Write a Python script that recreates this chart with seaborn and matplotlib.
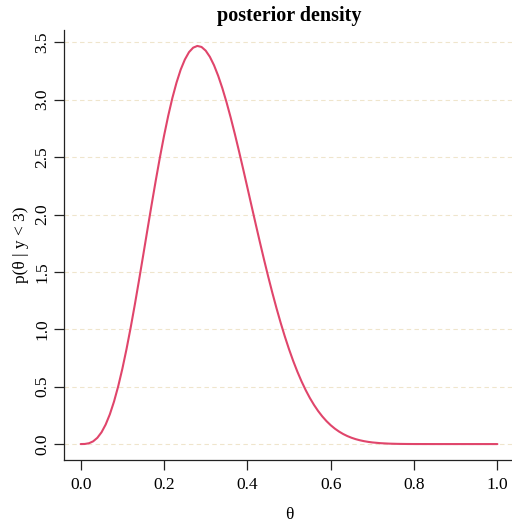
import matplotlib
matplotlib.use("Agg")
import matplotlib.pyplot as plt
import seaborn as sns
import pandas as pd

# Posterior density of theta given fewer than 3 successes
theta = [0.00, 0.01, 0.02, 0.03, 0.04, 0.05, 0.06, 0.07, 0.08, 0.09,
         0.10, 0.11, 0.12, 0.13, 0.14, 0.15, 0.16, 0.17, 0.18, 0.19,
         0.20, 0.21, 0.22, 0.23, 0.24, 0.25, 0.26, 0.27, 0.28, 0.29,
         0.30, 0.31, 0.32, 0.33, 0.34, 0.35, 0.36, 0.37, 0.38, 0.39,
         0.40, 0.41, 0.42, 0.43, 0.44, 0.45, 0.46, 0.47, 0.48, 0.49,
         0.50, 0.51, 0.52, 0.53, 0.54, 0.55, 0.56, 0.57, 0.58, 0.59,
         0.60, 0.61, 0.62, 0.63, 0.64, 0.65, 0.66, 0.67, 0.68, 0.69,
         0.70, 0.72, 0.74, 0.76, 0.78, 0.80, 0.85, 0.90, 0.95, 1.00]
density = [0.0000, 0.0009, 0.0073, 0.0238, 0.0544, 0.1024, 0.1702, 0.2592, 0.3701, 0.5025,
           0.6554, 0.8270, 1.0149, 1.2159, 1.4269, 1.6437, 1.8629, 2.0802, 2.2921, 2.4946,
           2.6844, 2.8584, 3.0144, 3.1488, 3.2620, 3.3499, 3.4146, 3.4536, 3.4686, 3.4597,
           3.4276, 3.3740, 3.3004, 3.2084, 3.1004, 2.9784, 2.8445, 2.7012, 2.5506, 2.3949,
           2.2361, 2.0762, 1.9171, 1.7603, 1.6074, 1.4594, 1.3177, 1.1829, 1.0557, 0.9367,
           0.8262, 0.7243, 0.6311, 0.5464, 0.4700, 0.4015, 0.3408, 0.2872, 0.2402, 0.1995,
           0.1643, 0.1343, 0.1089, 0.0874, 0.0696, 0.0549, 0.0428, 0.0331, 0.0253, 0.0191,
           0.0142, 0.0076, 0.0038, 0.0018, 0.0008, 0.0003, 0.0000, 0.0000, 0.0000, 0.0000]

x_ticks = [0.0, 0.2, 0.4, 0.6, 0.8, 1.0]
y_ticks = [0.0, 0.5, 1.0, 1.5, 2.0, 2.5, 3.0, 3.5]

df = pd.DataFrame({"theta": theta, "density": density})

sns.set_style("ticks")
plt.rcParams["font.family"] = ["Liberation Serif", "DejaVu Serif"]
plt.rcParams["text.color"] = "black"
plt.rcParams["axes.labelcolor"] = "black"

fig = plt.figure(figsize=(5.12, 5.21), dpi=100)
ax = fig.add_axes([0.125, 0.1171, 0.879, 0.8253])

for yv in y_ticks:
    ax.axhline(yv, color="#EFE5CC", lw=0.8, ls=(0, (4, 3)), zorder=0)

sns.lineplot(data=df, x="theta", y="density", color="#E0456B", lw=1.5, ax=ax)

ymax = max(density)
ax.set_xlim(-0.04, 1.04)
ax.set_ylim(-0.04 * ymax, 1.04 * ymax)
ax.set_xticks(x_ticks)
ax.set_xticklabels([f"{v:.1f}" for v in x_ticks])
ax.set_yticks(y_ticks)
ax.set_yticklabels([f"{v:.1f}" for v in y_ticks], rotation=90, va="center")

ax.tick_params(axis="both", labelsize=12.5, length=7, width=0.9, colors="#222222",
               labelcolor="black")
ax.tick_params(axis="x", pad=5)
ax.tick_params(axis="y", pad=3)

for side in ["top", "right"]:
    ax.spines[side].set_visible(False)
for side in ["left", "bottom"]:
    ax.spines[side].set_linewidth(0.9)
    ax.spines[side].set_color("#222222")

ax.set_xlabel("θ", fontsize=12.5, labelpad=10)
ax.set_ylabel("p(θ | y < 3)", fontsize=12.5, labelpad=4)
fig.text(0.5645, 0.970, "posterior density", ha="center", va="center",
         fontsize=14.5, fontweight="bold", color="black")

fig.savefig("out.png", dpi=100)
